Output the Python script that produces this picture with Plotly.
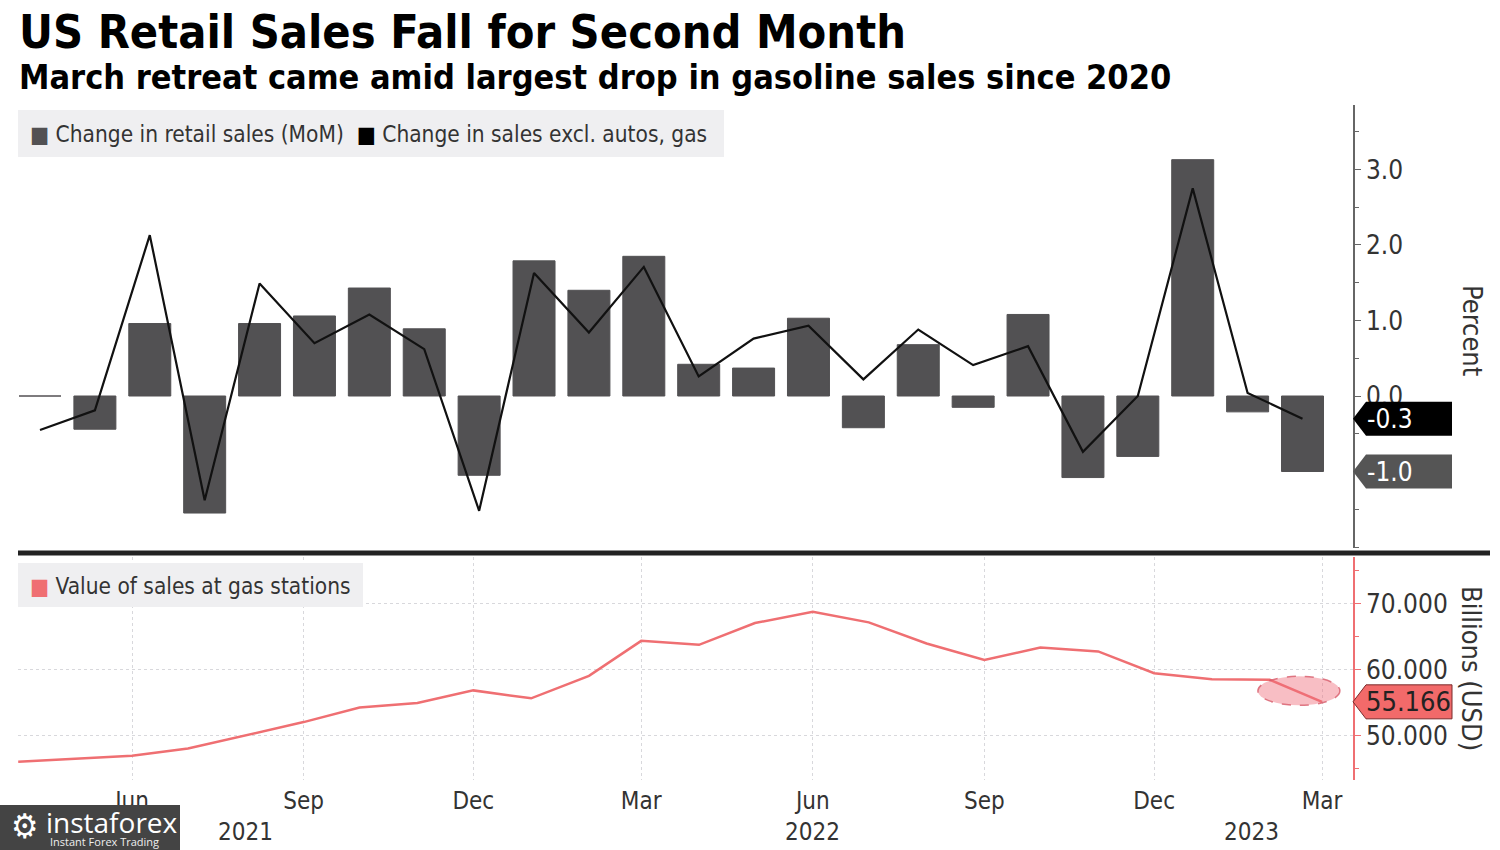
import pandas as pd
import plotly.graph_objects as go

# ---------------- data ----------------
month_labels = ["Apr 2021", "May 2021", "Jun 2021", "Jul 2021", "Aug 2021", "Sep 2021",
                "Oct 2021", "Nov 2021", "Dec 2021", "Jan 2022", "Feb 2022", "Mar 2022",
                "Apr 2022", "May 2022", "Jun 2022", "Jul 2022", "Aug 2022", "Sep 2022",
                "Oct 2022", "Nov 2022", "Dec 2022", "Jan 2023", "Feb 2023", "Mar 2023"]
month_dates = ["2021-04-01", "2021-05-01", "2021-06-01", "2021-07-01", "2021-08-01", "2021-09-01",
               "2021-10-01", "2021-11-01", "2021-12-01", "2022-01-01", "2022-02-01", "2022-03-01",
               "2022-04-01", "2022-05-01", "2022-06-01", "2022-07-01", "2022-08-01", "2022-09-01",
               "2022-10-01", "2022-11-01", "2022-12-01", "2023-01-01", "2023-02-01", "2023-03-01"]
retail_mom = [0.0, -0.44, 0.96, -1.55, 0.96, 1.06, 1.43, 0.89, -1.05, 1.79, 1.40, 1.85,
              0.42, 0.37, 1.03, -0.42, 0.68, -0.15, 1.08, -1.08, -0.80, 3.13, -0.21, -1.0]
excl_autos_gas = [-0.45, -0.19, 2.13, -1.38, 1.49, 0.70, 1.08, 0.62, -1.52, 1.63, 0.84, 1.71,
                  0.26, 0.76, 0.93, 0.22, 0.88, 0.41, 0.66, -0.74, 0.0, 2.75, 0.04, -0.3]
gas_sales = [46.1, 46.5, 47.0, 48.1, 50.1, 52.1, 54.3, 55.0, 56.9, 55.7, 59.1, 64.4,
             63.8, 67.1, 68.8, 67.2, 64.0, 61.5, 63.4, 62.8, 59.5, 58.6, 58.5, 55.166]
tick_dates = ["2021-06-01", "2021-09-01", "2021-12-01", "2022-03-01", "2022-06-01",
              "2022-09-01", "2022-12-01", "2023-03-01"]
tick_text = ["Jun", "Sep", "Dec", "Mar", "Jun", "Sep", "Dec", "Mar"]
year_labels = ["2021", "2022", "2023"]
year_label_dates = ["2021-08-01", "2022-06-01", "2023-01-22"]

# ---------------- layout helpers ----------------
W, H = 1500, 850
L, R = 18, 1353          # plot area in pixels
def px(x):
    return (x - L) / (R - L)
def py(y):
    return (H - y) / H

FONT = "DejaVu Sans Condensed, DejaVu Sans, sans-serif"
BAR_C = "#525153"
LINE_C = "#111111"
GAS_C = "#ef6f72"
TXT = "#333333"
GRID = "#d8d8dc"

# date-axis range: Jun-1-2021 at 132px, Mar-1-2023 at 1322px
t_jun = pd.Timestamp("2021-06-01")
t_mar = pd.Timestamp("2023-03-01")
ppd = (1322 - 132) / (t_mar - t_jun).days
x_start = t_jun - pd.Timedelta(days=(132 - L) / ppd)
x_end = t_mar + pd.Timedelta(days=(R - 1322) / ppd)
date_range = [x_start.strftime("%Y-%m-%d %H:%M"), x_end.strftime("%Y-%m-%d %H:%M")]

# category axis for bars: first at 40px, last at 1302.5px
ppc = (1302.5 - 40) / (len(month_labels) - 1)
cat_range = [-(40 - L) / ppc, (len(month_labels) - 1) + (R - 1302.5) / ppc]

fig = go.Figure()

fig.add_trace(go.Bar(x=month_labels, y=retail_mom, xaxis="x3", yaxis="y",
                     marker=dict(color=BAR_C, line=dict(color=BAR_C, width=1)),
                     name="Change in retail sales (MoM)", showlegend=False))
fig.add_trace(go.Scatter(x=month_labels, y=excl_autos_gas, xaxis="x3", yaxis="y",
                         mode="lines", line=dict(color=LINE_C, width=2.2),
                         name="Change in sales excl. autos, gas", showlegend=False))
fig.add_trace(go.Scatter(x=month_dates, y=gas_sales, xaxis="x2", yaxis="y2",
                         mode="lines", line=dict(color=GAS_C, width=2.5),
                         name="Value of sales at gas stations", showlegend=False))

up_dom = [py(548), py(105)]
lo_dom = [py(780), py(557)]

common_x = dict(type="date", range=date_range, tickmode="array", tickvals=tick_dates,
                showgrid=True, gridcolor=GRID, griddash="dot", gridwidth=1,
                zeroline=False, showline=False, ticks="", automargin=False)

fig.update_layout(
    width=W, height=H,
    margin=dict(l=L, r=W - R, t=0, b=0),
    paper_bgcolor="white", plot_bgcolor="white",
    font=dict(family=FONT, color=TXT),
    bargap=0.235,
    xaxis=dict(domain=[0, 1], anchor="y", showticklabels=False, **common_x),
    xaxis2=dict(domain=[0, 1], anchor="y2", ticktext=tick_text, showticklabels=True,
                tickfont=dict(size=24, color=TXT), ticklabelstandoff=4, **common_x),
    xaxis3=dict(type="category", overlaying="x", anchor="y", range=cat_range,
                visible=False, showgrid=False),
    yaxis=dict(domain=up_dom, anchor="x", side="right", range=[-2.013, 3.854],
               tickmode="array", tickvals=[0, 1, 2, 3], tickformat=".1f",
               tickfont=dict(size=26, color=TXT), ticks="outside", ticklen=6,
               tickcolor="#666", showline=True, linecolor="#666", linewidth=1.5,
               showgrid=False, zeroline=False, automargin=False,
               minor=dict(tickvals=[-2, -1.5, -1, -0.5, 0.5, 1.5, 2.5, 3.5],
                          ticks="outside", ticklen=4, tickcolor="#666",
                          showgrid=False)),
    yaxis2=dict(domain=lo_dom, anchor="x2", side="right", range=[43.33, 77.1],
                tickmode="array", tickvals=[50, 60, 70], tickformat=".3f",
                tickfont=dict(size=26, color=TXT), ticks="outside", ticklen=6,
                tickcolor=GAS_C, showline=True, linecolor=GAS_C, linewidth=1.5,
                showgrid=True, gridcolor=GRID, griddash="dot", zeroline=False,
                automargin=False,
                minor=dict(tickvals=[45, 55, 65, 75], ticks="outside", ticklen=4,
                           tickcolor=GAS_C, showgrid=False)),
)

# horizontal dotted gridlines in the upper panel (incl. -1, -2)
for v in [-1, 0, 1, 2, 3]:
    fig.add_shape(type="line", xref="x domain", yref="y", x0=0, x1=1, y0=v, y1=v,
                  line=dict(color=GRID, width=1, dash="dot"), layer="below")

shapes = []
# separator bar
shapes.append(dict(type="line", xref="paper", yref="paper", x0=0, x1=px(1490),
                   y0=py(553), y1=py(553), line=dict(color="#222", width=5)))
# legend backgrounds
shapes.append(dict(type="rect", xref="paper", yref="paper", x0=px(18), x1=px(724),
                   y0=py(157), y1=py(110), fillcolor="#efeff1", line=dict(width=0),
                   layer="above"))
shapes.append(dict(type="rect", xref="paper", yref="paper", x0=px(18), x1=px(363),
                   y0=py(607), y1=py(563), fillcolor="#efeff1", line=dict(width=0),
                   layer="above"))

# value tags with pointers, anchored to the last values
def tag_path(h=17, tip=13, w=99):
    return f"M 0 0 L {tip} {h} L {w} {h} L {w} {-h} L {tip} {-h} Z"

shapes.append(dict(type="path", xref="paper", yref="y", xsizemode="pixel",
                   ysizemode="pixel", xanchor=1, yanchor=excl_autos_gas[-1],
                   path=tag_path(), fillcolor="#000000", line=dict(width=0)))
shapes.append(dict(type="path", xref="paper", yref="y", xsizemode="pixel",
                   ysizemode="pixel", xanchor=1, yanchor=retail_mom[-1],
                   path=tag_path(), fillcolor="#555555", line=dict(width=0)))
shapes.append(dict(type="path", xref="paper", yref="y2", xsizemode="pixel",
                   ysizemode="pixel", xanchor=1, yanchor=gas_sales[-1],
                   path=tag_path(), fillcolor="#f26a6a", line=dict(color="#7a2a2a", width=1)))

# dashed ellipse around the last segment of gas sales
mid_date = pd.Timestamp(month_dates[-2]) + (pd.Timestamp(month_dates[-1]) - pd.Timestamp(month_dates[-2])) / 2
mid_val = (gas_sales[-2] + gas_sales[-1]) / 2
shapes.append(dict(type="circle", xref="x2", yref="y2", xsizemode="pixel", ysizemode="pixel",
                   xanchor=mid_date.strftime("%Y-%m-%d %H:%M"), yanchor=mid_val,
                   x0=-38, x1=44, y0=-14.5, y1=14.5,
                   fillcolor="rgba(240,110,125,0.45)",
                   line=dict(color="rgba(215,90,105,0.8)", width=1.5, dash="dash")))

# watermark box
shapes.append(dict(type="rect", xref="paper", yref="paper", x0=px(0), x1=px(180),
                   y0=py(850), y1=py(805), fillcolor="#444444", line=dict(width=0)))

for s in shapes:
    fig.add_shape(**s)

ann = []
ann.append(dict(text="<b>US Retail Sales Fall for Second Month</b>", x=px(17), y=py(32),
                xanchor="left", yanchor="middle", font=dict(size=46.5, color="#000")))
ann.append(dict(text="<b>March retreat came amid largest drop in gasoline sales since 2020</b>",
                x=px(17), y=py(77), xanchor="left", yanchor="middle",
                font=dict(size=34, color="#000")))
ann.append(dict(text=f"<span style='color:{BAR_C}'>■</span> Change in retail sales (MoM)  "
                     f"<span style='color:#000'>■</span> Change in sales excl. autos, gas",
                x=px(28), y=py(134), xanchor="left", yanchor="middle",
                font=dict(size=22.5, color=TXT)))
ann.append(dict(text=f"<span style='color:{GAS_C}'>■</span> Value of sales at gas stations",
                x=px(28), y=py(586), xanchor="left", yanchor="middle",
                font=dict(size=22.5, color=TXT)))
ann.append(dict(text="Percent", x=px(1472), y=py(330), textangle=90,
                xanchor="center", yanchor="middle", font=dict(size=27, color=TXT)))
ann.append(dict(text="Billions (USD)", x=px(1472), y=py(668), textangle=90,
                xanchor="center", yanchor="middle", font=dict(size=27, color=TXT)))
for t, d in zip(year_labels, year_label_dates):
    fig.add_annotation(text=t, x=d, xref="x2", y=py(832), yref="paper", showarrow=False,
                       xanchor="center", yanchor="middle", font=dict(size=24, color=TXT))
# value tag texts
fig.add_annotation(text=f"{excl_autos_gas[-1]:.1f}", xref="paper", yref="y", x=1,
                   y=excl_autos_gas[-1], xanchor="left", xshift=12, showarrow=False,
                   font=dict(size=26, color="white"))
fig.add_annotation(text=f"{retail_mom[-1]:.1f}", xref="paper", yref="y", x=1,
                   y=retail_mom[-1], xanchor="left", xshift=12, showarrow=False,
                   font=dict(size=26, color="white"))
fig.add_annotation(text=f"{gas_sales[-1]:.3f}", xref="paper", yref="y2", x=1,
                   y=gas_sales[-1], xanchor="left", xshift=11, showarrow=False,
                   font=dict(size=27, color="#222"))
# watermark text
ann.append(dict(text="⚙", x=px(24), y=py(826), xanchor="center", yanchor="middle",
                font=dict(size=34, color="white")))
ann.append(dict(text="instaforex", x=px(44), y=py(822), xanchor="left", yanchor="middle",
                font=dict(size=28, color="white", family="Open Sans, sans-serif")))
ann.append(dict(text="Instant Forex Trading", x=px(48), y=py(841), xanchor="left",
                yanchor="middle", font=dict(size=11, color="#eeeeee",
                                            family="Open Sans, sans-serif")))
for a in ann:
    fig.add_annotation(xref="paper", yref="paper", showarrow=False, **a)

fig.write_html("out.html", config={"displayModeBar": False},
               post_script="document.body.style.margin='0px';")
